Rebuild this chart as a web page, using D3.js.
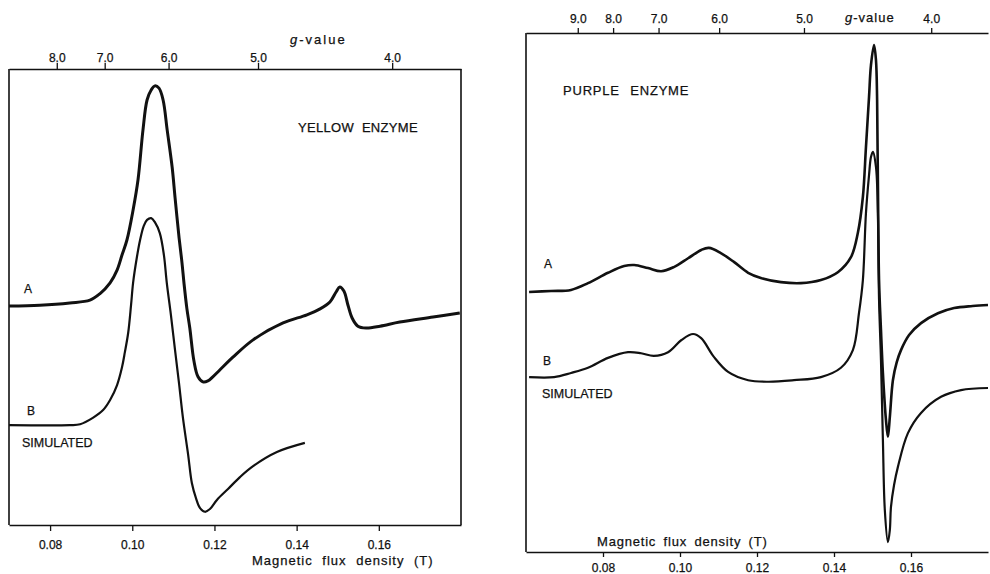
<!DOCTYPE html>
<html lang="en">
<head>
<meta charset="UTF-8">
<title>EPR spectra : yellow and purple enzyme</title>
<script src="https://d3js.org/d3.v7.min.js"></script>
<style>
  body { margin: 0; background: #fff; }
  text { font-family: "Liberation Sans", Arial, sans-serif; fill: #111; stroke: #111; stroke-width: 0.25; }
</style>
</head>
<body>

<!-- the two spectra panels go in here -->
<div id="my_dataviz"></div>

<script>
    // Tick labels
    const fieldTicks = [0.08, 0.10, 0.12, 0.14, 0.16];      // magnetic flux density (T)
    const gTicksLeft = [8.0, 7.0, 6.0, 5.0, 4.0];
    const gTicksRight = [9.0, 8.0, 7.0, 6.0, 5.0, 4.0];

    // h*nu / muB (T) for each recording, so that B = k / g
    const kLeft = 0.653, kRight = 0.661;

    // Yellow enzyme, trace A (experimental) : [B (T), signal (a.u.)]
    const yellowA = [
        [0.0700, 48.0], [0.0775, 48.2], [0.0848, 48.7], [0.0897, 49.3], [0.0921, 50.7],
        [0.0946, 53.1], [0.0963, 55.9], [0.0975, 59.2], [0.0987, 62.5], [0.1002, 69.1],
        [0.1014, 75.7], [0.1026, 86.6], [0.1036, 93.2], [0.1046, 95.4], [0.1055, 96.3],
        [0.1065, 95.8], [0.1075, 93.2], [0.1085, 86.6], [0.1097, 78.5], [0.1104, 71.9],
        [0.1114, 62.9], [0.1121, 57.5], [0.1126, 52.9], [0.1133, 47.4], [0.1140, 43.2],
        [0.1150, 36.0], [0.1160, 32.5], [0.1172, 31.4], [0.1184, 31.6], [0.1196, 32.5],
        [0.1213, 34.0], [0.1245, 36.8], [0.1294, 40.6], [0.1367, 44.3], [0.1425, 46.1],
        [0.1457, 47.4], [0.1481, 48.9], [0.1496, 51.1], [0.1505, 52.2], [0.1515, 51.3],
        [0.1525, 48.2], [0.1535, 45.4], [0.1549, 43.6], [0.1569, 43.2], [0.1603, 43.6],
        [0.1651, 44.5], [0.1732, 45.6], [0.1797, 46.5]
    ];

    // Yellow enzyme, trace B (simulated)
    const yellowB = [
        [0.0700, 21.9], [0.0848, 21.9], [0.0873, 22.1], [0.0904, 23.5], [0.0929, 25.2],
        [0.0946, 27.4], [0.0963, 30.7], [0.0975, 34.6], [0.0982, 37.9], [0.0990, 42.1],
        [0.0997, 48.2], [0.1002, 53.1], [0.1011, 58.6], [0.1019, 62.5], [0.1028, 65.6],
        [0.1036, 66.9], [0.1046, 67.3], [0.1055, 66.4], [0.1067, 64.0], [0.1077, 59.2],
        [0.1084, 53.1], [0.1094, 46.1], [0.1104, 38.4], [0.1114, 30.9], [0.1123, 23.7],
        [0.1136, 15.4], [0.1145, 9.2], [0.1155, 5.9], [0.1165, 3.7], [0.1177, 2.9],
        [0.1189, 3.5], [0.1206, 5.5], [0.1233, 7.9], [0.1262, 10.5], [0.1294, 12.9],
        [0.1352, 16.0], [0.1420, 18.0]
    ];

    // Purple enzyme, trace A (experimental)
    const purpleA = [
        [0.0608, 50.1], [0.0665, 50.3], [0.0717, 50.5], [0.0761, 51.8], [0.0813, 53.8],
        [0.0855, 55.1], [0.0881, 55.3], [0.0917, 54.7], [0.0951, 54.1], [0.0984, 54.9],
        [0.1021, 56.6], [0.1055, 58.2], [0.1075, 58.6], [0.1106, 57.6], [0.1140, 55.9],
        [0.1177, 53.8], [0.1210, 52.8], [0.1262, 52.0], [0.1314, 51.8], [0.1366, 52.4],
        [0.1410, 53.9], [0.1444, 56.8], [0.1462, 61.5], [0.1475, 68.4], [0.1483, 78.0],
        [0.1491, 87.7], [0.1496, 93.8], [0.1504, 97.7], [0.1509, 94.8], [0.1512, 87.1],
        [0.1514, 71.7], [0.1517, 52.4], [0.1522, 42.8], [0.1527, 34.5], [0.1535, 25.4],
        [0.1540, 22.2], [0.1545, 26.0], [0.1553, 33.1], [0.1563, 36.6], [0.1574, 38.9],
        [0.1595, 41.8], [0.1626, 44.1], [0.1670, 46.0], [0.1712, 47.0], [0.1760, 47.4],
        [0.1800, 47.6]
    ];

    // Purple enzyme, trace B (simulated)
    const purpleB = [
        [0.0608, 33.7], [0.0673, 33.7], [0.0717, 34.5], [0.0761, 35.5], [0.0813, 37.4],
        [0.0865, 38.5], [0.0899, 38.3], [0.0932, 37.8], [0.0969, 38.5], [0.1003, 40.8],
        [0.1034, 42.0], [0.1055, 41.2], [0.1088, 37.6], [0.1125, 34.7], [0.1177, 33.1],
        [0.1229, 32.8], [0.1296, 33.1], [0.1366, 33.7], [0.1418, 35.5], [0.1449, 38.9],
        [0.1465, 46.1], [0.1475, 52.4], [0.1483, 65.3], [0.1491, 72.6], [0.1496, 76.1],
        [0.1501, 77.1], [0.1509, 74.2], [0.1514, 65.3], [0.1517, 48.6], [0.1522, 37.0],
        [0.1527, 21.6], [0.1532, 8.1], [0.1540, 1.9], [0.1545, 4.2], [0.1548, 8.7],
        [0.1556, 12.9], [0.1566, 16.4], [0.1592, 22.9], [0.1626, 26.8], [0.1678, 29.9],
        [0.1730, 31.2], [0.1800, 31.6]
    ];


    const svg = d3.select("#my_dataviz")
        .append("svg")
            .attr("width", 990)
            .attr("height", 574);


    // one panel = frame, bottom field axis, top g-value axis, two traces
    function drawPanel(p) {
        const x = d3.scaleLinear().domain(p.xDomain).range(p.xRange);
        const y = d3.scaleLinear().domain([0, 100]).range([p.bottom, p.top]);
        const g = svg.append("g");

        // bottom axis : flux density
        const bAxis = g.append("g")
            .attr("transform", `translate(0, ${p.bottom})`)
            .call(d3.axisBottom(x)
                .tickValues(fieldTicks)
                .tickFormat(d3.format(".2f"))
                .tickSize(p.bTick).tickSizeOuter(0).tickPadding(p.bPad));

        // top axis : g-value, placed at B = k / g
        const tAxis = g.append("g")
            .attr("transform", `translate(0, ${p.top})`)
            .call(d3.axisTop(x)
                .tickValues(p.gTicks.map(v => p.k / v))
                .tickFormat((d, i) => p.gTicks[i].toFixed(1))
                .tickSize(p.tTick).tickSizeOuter(0).tickPadding(p.tPad));

        [bAxis, tAxis].forEach(a => {
            a.select(".domain").attr("stroke", "#111").attr("stroke-width", 1.6);
            a.selectAll(".tick line").attr("stroke", "#111").attr("stroke-width", 1.3);
            a.selectAll("text")
                .attr("font-family", "Liberation Sans, Arial, sans-serif")
                .attr("font-size", 12)
                .attr("fill", "#111");
        });

        // vertical sides of the frame
        p.sides.forEach(v => {
            g.append("line")
                .attr("x1", x(v)).attr("x2", x(v))
                .attr("y1", p.top).attr("y2", p.bottom)
                .attr("stroke", "#111").attr("stroke-width", 1.6);
        });

        const line = d3.line()
            .x(d => x(d[0]))
            .y(d => y(d[1]))
            .curve(d3.curveCatmullRom.alpha(0.5));

        g.append("path").datum(p.traceA)
            .attr("d", line).attr("fill", "none")
            .attr("stroke", "#111").attr("stroke-width", p.wA)
            .attr("stroke-linejoin", "round");
        g.append("path").datum(p.traceB)
            .attr("d", line).attr("fill", "none")
            .attr("stroke", "#111").attr("stroke-width", p.wB)
            .attr("stroke-linejoin", "round");

        return g;
    }

    const left = drawPanel({
        xDomain: [0.07, 0.18], xRange: [9, 461], top: 69, bottom: 525,
        bTick: 6, bPad: 9, tTick: 6, tPad: 1,
        gTicks: gTicksLeft, k: kLeft, sides: [0.07, 0.18],
        traceA: yellowA, traceB: yellowB, wA: 3, wB: 2.2
    });

    const right = drawPanel({
        xDomain: [0.06, 0.18], xRange: [526, 988], top: 33, bottom: 552,
        bTick: 5, bPad: 6, tTick: 5, tPad: 5,
        gTicks: gTicksRight, k: kRight, sides: [0.06],
        traceA: purpleA, traceB: purpleB, wA: 2.6, wB: 2.2
    });


    // Text labels
    function label(g, txt, x, y, opt = {}) {
        return g.append("text")
            .attr("x", x).attr("y", y)
            .attr("font-size", opt.size || 13)
            .attr("text-anchor", opt.anchor || "start")
            .attr("letter-spacing", opt.ls || 0)
            .attr("word-spacing", opt.ws || 0)
            .text(txt);
    }

    function gValueTitle(g, x, y, ls) {
        const t = g.append("text").attr("x", x).attr("y", y)
            .attr("font-size", 13).attr("letter-spacing", ls);
        t.append("tspan").attr("font-style", "italic").text("g");
        t.append("tspan").text("-value");
    }

    // left panel
    label(left, "YELLOW ENZYME", 298, 132, {ls: 0.3, ws: 4});
    label(left, "A", 28, 293, {anchor: "middle", size: 12});
    label(left, "B", 31, 415, {anchor: "middle", size: 12});
    label(left, "SIMULATED", 22, 447, {size: 12.5});
    label(left, "Magnetic flux density (T)", 252, 565, {ls: 1, ws: 5});
    gValueTitle(left, 290, 44, 2);

    // right panel
    label(right, "PURPLE ENZYME", 563, 95, {ls: 0.8, ws: 6});
    label(right, "A", 548, 268, {anchor: "middle", size: 12});
    label(right, "B", 547, 365, {anchor: "middle", size: 12});
    label(right, "SIMULATED", 542, 398, {size: 12.5});
    label(right, "Magnetic flux density (T)", 597, 546, {ls: 0.8, ws: 3});
    gValueTitle(right, 845, 22, 1);

</script>

</body>
</html>
